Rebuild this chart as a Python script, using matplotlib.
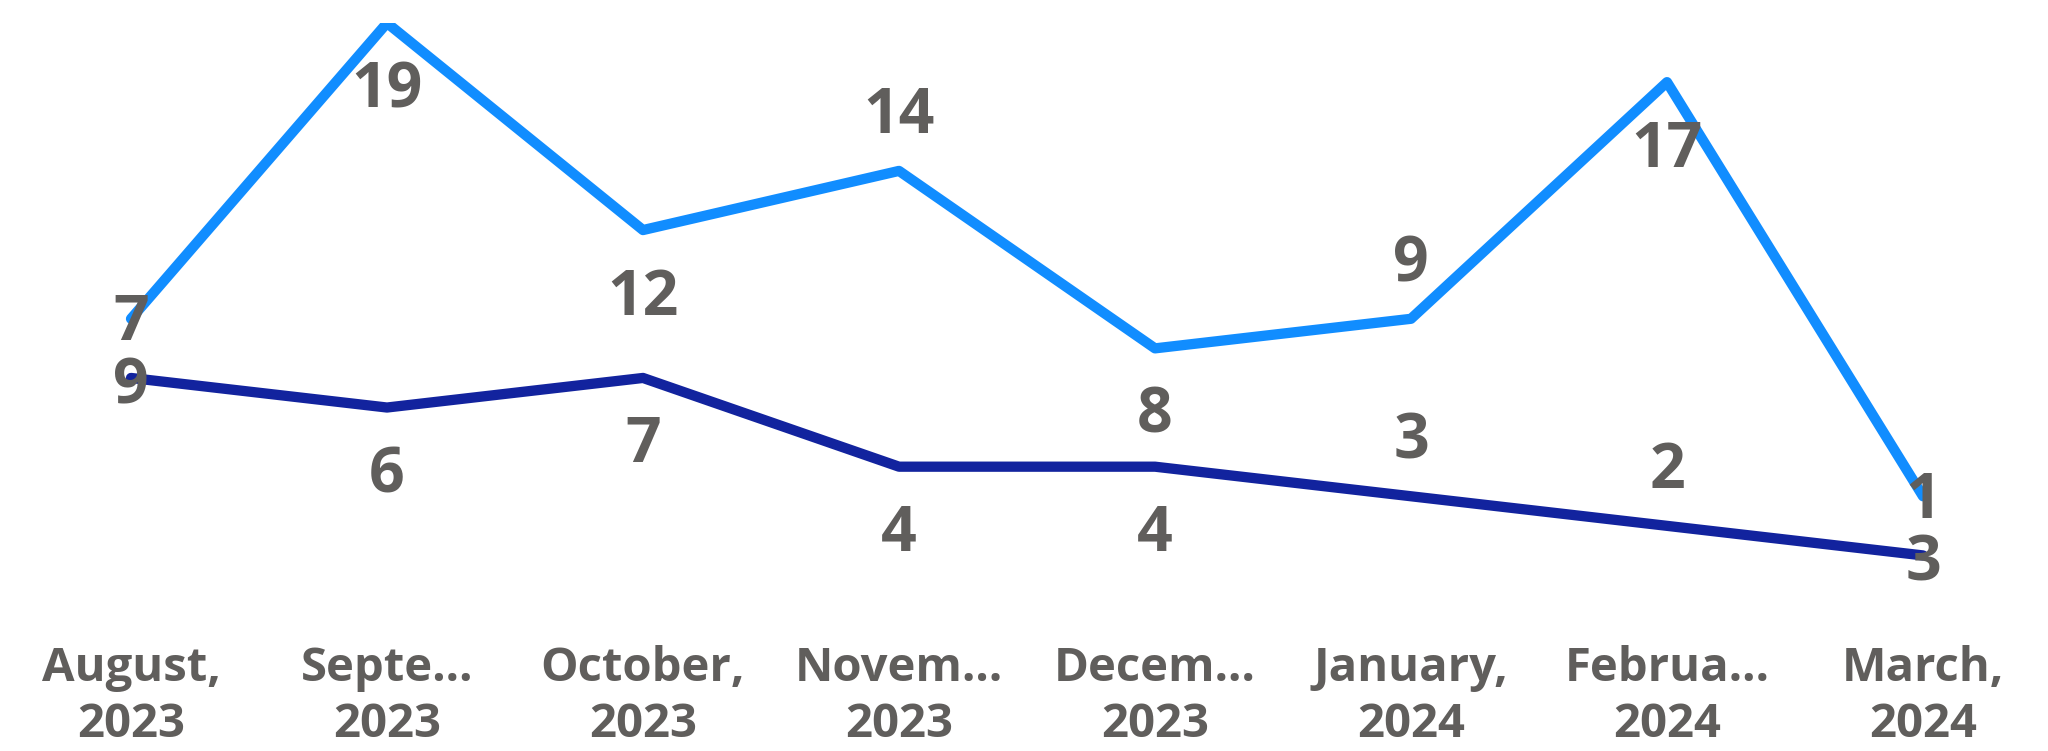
import matplotlib
matplotlib.use("Agg")
import matplotlib.pyplot as plt

# ---- data ----
categories = ["August, 2023", "September, 2023", "October, 2023", "November, 2023",
              "December, 2023", "January, 2024", "February, 2024", "March, 2024"]
tick_labels = ["August,\n2023", "Septe…\n2023", "October,\n2023", "Novem…\n2023",
               "Decem…\n2023", "January,\n2024", "Februa…\n2024", "March,\n2024"]
series_a = [9, 19, 12, 14, 8, 9, 17, 3]   # light blue
series_b = [7, 6, 7, 4, 4, 3, 2, 1]       # dark blue
# label side: +1 above the point, -1 below
side_a = [-1, -1, -1, 1, -1, 1, -1, -1]
side_b = [1, -1, -1, -1, -1, 1, 1, 1]

COLOR_A = "#118DFF"
COLOR_B = "#12239E"
TEXT = "#605E5C"

fig = plt.figure(figsize=(20.48, 7.51), dpi=100)
ax = fig.add_axes([3 / 2048, (751 - 585) / 751, 1, (585 - 23) / 751])

x = list(range(len(categories)))
lw = 7.4
ax.plot(x, series_a, color=COLOR_A, lw=lw, solid_joinstyle="round", solid_capstyle="round", zorder=3)
ax.plot(x, series_b, color=COLOR_B, lw=lw, solid_joinstyle="round", solid_capstyle="round", zorder=3)

lab_font = dict(family=["Open Sans", "DejaVu Sans"], fontsize=45, fontweight="bold", color=TEXT)
half = 23.5
off = 61
for vals, sides in ((series_a, side_a), (series_b, side_b)):
    for xi, v, s in zip(x, vals, sides):
        dy = (off - half) if s > 0 else (-off - half)
        ax.annotate(str(v), (xi, v), xytext=(0, dy), textcoords="offset pixels",
                    ha="center", va="baseline", zorder=4, **lab_font)

ax.set_xlim(-0.5, len(categories) - 0.5)
ax.set_ylim(0, 19)
ax.set_yticks([])
ax.set_xticks(x)
ax.set_xticklabels(tick_labels, family=["Open Sans", "DejaVu Sans"], fontsize=34,
                   fontweight="bold", color=TEXT, linespacing=1.27)
ax.tick_params(axis="x", length=0, pad=43)
for sp in ax.spines.values():
    sp.set_visible(False)
ax.patch.set_alpha(0)

fig.savefig("out.png", dpi=100, facecolor="white")
